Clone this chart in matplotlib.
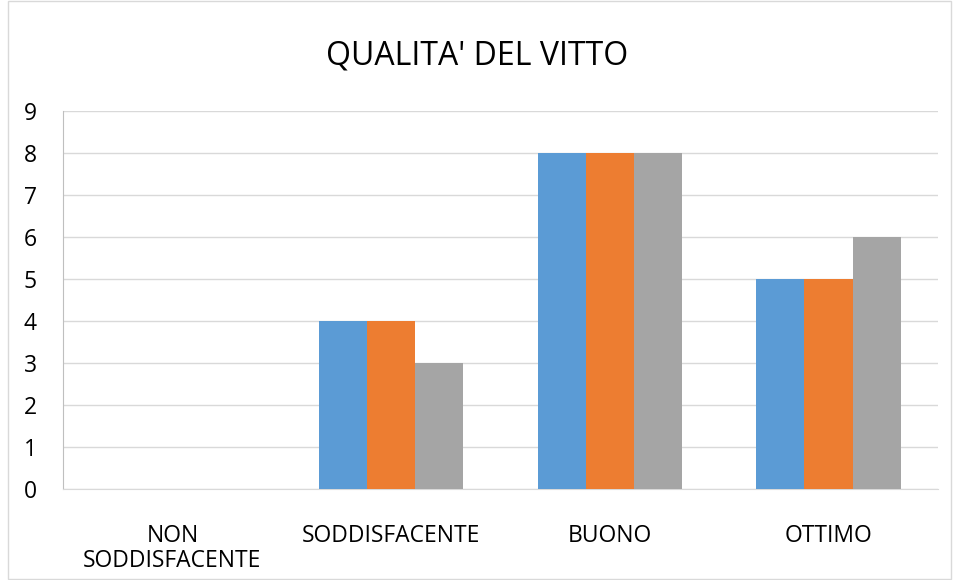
import matplotlib.pyplot as plt
import numpy as np
from matplotlib.patches import Rectangle

plt.rcParams['font.family'] = ['Open Sans', 'DejaVu Sans']

categories = ["NON\nSODDISFACENTE", "SODDISFACENTE", "BUONO", "OTTIMO"]
serie1 = [0, 4, 8, 5]
serie2 = [0, 4, 8, 5]
serie3 = [0, 3, 8, 6]
colors = ["#5B9BD5", "#ED7D31", "#A5A5A5"]

fig = plt.figure(figsize=(9.55, 5.8), dpi=100)
ax = fig.add_axes([0.066, 0.157, 0.916, 0.652])

x = np.arange(len(categories))
w = 0.22
for i, vals in enumerate([serie1, serie2, serie3]):
    ax.bar(x + (i - 1) * w, vals, width=w, color=colors[i], zorder=3)

ax.set_xlim(-0.5, len(categories) - 0.5)
ax.set_ylim(0, 9)
ax.set_yticks(range(0, 10))
ax.yaxis.grid(True, color="#D9D9D9", linewidth=1, zorder=0)
ax.set_xticks(x)
ax.set_xticklabels(categories, fontsize=16.5, linespacing=1.05)
ax.tick_params(axis="both", length=0, labelsize=16.5, colors="black")
ax.tick_params(axis="x", pad=25)
ax.tick_params(axis="y", pad=19)
for s in ["top", "right"]:
    ax.spines[s].set_visible(False)
ax.spines["bottom"].set_color("#D9D9D9")
ax.spines["left"].set_color("#BFBFBF")

fig.text(0.5, 0.903, "QUALITA' DEL VITTO", ha="center", va="center", fontsize=23)
fig.patches.append(Rectangle((8 / 955, 0.002), 943 / 955, 0.996, transform=fig.transFigure,
                             fill=False, edgecolor="#D9D9D9", linewidth=1))

fig.savefig("out.png", dpi=100)
